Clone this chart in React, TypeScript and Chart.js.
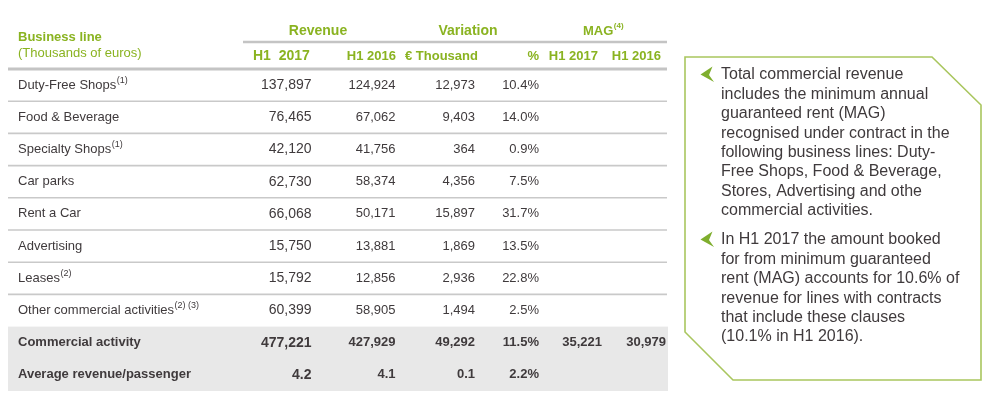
import React, { useEffect, useRef } from "react";
import { Chart, registerables } from "chart.js";

Chart.register(...registerables);

// ---- Data ----
const rowLabels = [
  "Duty-Free Shops",
  "Food & Beverage",
  "Specialty Shops",
  "Car parks",
  "Rent a Car",
  "Advertising",
  "Leases",
  "Other commercial activities",
  "Commercial activity",
  "Average revenue/passenger",
];
const rowNotes = ["(1)", "", "(1)", "", "", "", "(2)", "(2) (3)", "", ""];
const revenueH12017 = [137897, 76465, 42120, 62730, 66068, 15750, 15792, 60399, 477221, 4.2];
const revenueH12016 = [124924, 67062, 41756, 58374, 50171, 13881, 12856, 58905, 427929, 4.1];
const variationThousand = [12973, 9403, 364, 4356, 15897, 1869, 2936, 1494, 49292, 0.1];
const variationPct = [10.4, 14.0, 0.9, 7.5, 31.7, 13.5, 22.8, 2.5, 11.5, 2.2];
const magH12017: (number | null)[] = [null, null, null, null, null, null, null, null, 35221, null];
const magH12016: (number | null)[] = [null, null, null, null, null, null, null, null, 30979, null];
const boldRows = [false, false, false, false, false, false, false, false, true, true];

const groupHeaders = ["Revenue", "Variation", "MAG"];
const subHeaders = ["H1  2017", "H1 2016", "€ Thousand", "%", "H1 2017", "H1 2016"];
const titleLines = ["Business line", "(Thousands of euros)"];

const bullet1 = [
  "Total commercial revenue",
  "includes the minimum annual",
  "guaranteed rent (MAG)",
  "recognised under contract in the",
  "following business lines: Duty-",
  "Free Shops, Food & Beverage,",
  "Stores, Advertising and othe",
  "commercial activities.",
];
const bullet2 = [
  "In H1 2017 the amount booked",
  "for from minimum guaranteed",
  "rent (MAG) accounts for 10.6% of",
  "revenue for lines with contracts",
  "that include these clauses",
  "(10.1% in H1 2016).",
];

// ---- Styles ----
const FONT = "'Liberation Sans', Arial, Helvetica, sans-serif";
const GREEN = "#8ab321";
const TEXT = "#3f3a3c";
const LINE = "#c9c9c9";
const SHADE = "#e8e8e8";
const BOX = "#a9c65e";

function fmt(v: number | null): string {
  if (v === null || v === undefined) return "";
  if (Number.isInteger(v)) return v.toString().replace(/\B(?=(\d{3})+(?!\d))/g, ",");
  return v.toFixed(1);
}

const tablePlugin = {
  id: "tablePlugin",
  beforeDraw(chart: any) {
    const ctx = chart.ctx as CanvasRenderingContext2D;
    const x = chart.scales.x;
    const y = chart.scales.y;
    const px = (v: number) => x.getPixelForValue(v);
    const rowY = (i: number) => y.getPixelForValue(i);
    const n = rowLabels.length;
    ctx.save();
    ctx.fillStyle = "#ffffff";
    ctx.fillRect(0, 0, chart.width, chart.height);

    // shaded total rows
    const shadeTop = rowY(7.5);
    const shadeBot = rowY(n - 0.5);
    ctx.fillStyle = SHADE;
    ctx.fillRect(px(8), shadeTop, px(668) - px(8), shadeBot - shadeTop);

    // row dividers
    ctx.strokeStyle = LINE;
    ctx.lineWidth = 1.6;
    for (let i = 1; i <= 7; i++) {
      const yy = rowY(i - 0.5);
      ctx.beginPath();
      ctx.moveTo(px(8), yy);
      ctx.lineTo(px(667), yy);
      ctx.stroke();
    }
    // thick header line
    ctx.lineWidth = 3;
    ctx.strokeStyle = "#c4c4c4";
    const top = rowY(-0.5);
    ctx.beginPath();
    ctx.moveTo(px(8), top);
    ctx.lineTo(px(667), top);
    ctx.stroke();
    // group line
    ctx.lineWidth = 2.5;
    ctx.beginPath();
    ctx.moveTo(px(243), top - 27);
    ctx.lineTo(px(667), top - 27);
    ctx.stroke();

    // headers
    ctx.textBaseline = "middle";
    ctx.fillStyle = GREEN;
    ctx.textAlign = "left";
    ctx.font = `bold 13px ${FONT}`;
    ctx.fillText(titleLines[0], px(18), top - 32);
    ctx.font = `13px ${FONT}`;
    ctx.fillText(titleLines[1], px(18), top - 16);

    ctx.font = `bold 14px ${FONT}`;
    ctx.textAlign = "center";
    ctx.fillText(groupHeaders[0], px(318), top - 38);
    ctx.fillText(groupHeaders[1], px(468), top - 38);
    ctx.textAlign = "left";
    ctx.font = `bold 13px ${FONT}`;
    ctx.fillText(groupHeaders[2], px(583), top - 38);
    const mw = ctx.measureText(groupHeaders[2]).width;
    ctx.font = `bold 8px ${FONT}`;
    ctx.fillText("(4)", px(583) + mw + 0.5, top - 43);

    const subY = top - 13;
    ctx.font = `bold 14px ${FONT}`;
    ctx.textAlign = "left";
    ctx.fillText(subHeaders[0], px(253), subY);
    ctx.font = `bold 13px ${FONT}`;
    ctx.textAlign = "right";
    ctx.fillText(subHeaders[1], px(396), subY);
    ctx.textAlign = "left";
    ctx.fillText(subHeaders[2], px(405), subY);
    ctx.textAlign = "right";
    ctx.fillText(subHeaders[3], px(539), subY);
    ctx.fillText(subHeaders[4], px(598), subY);
    ctx.fillText(subHeaders[5], px(661), subY);

    // rows
    const cols: { vals: (number | null)[]; right: number; size: number; pct?: boolean }[] = [
      { vals: revenueH12017, right: 311.5, size: 14 },
      { vals: revenueH12016, right: 395.5, size: 13 },
      { vals: variationThousand, right: 475, size: 13 },
      { vals: variationPct, right: 539, size: 13, pct: true },
      { vals: magH12017, right: 602, size: 13 },
      { vals: magH12016, right: 666, size: 13 },
    ];
    ctx.fillStyle = TEXT;
    for (let i = 0; i < n; i++) {
      const yy = rowY(i);
      const b = boldRows[i] ? "bold " : "";
      ctx.textAlign = "left";
      ctx.font = `${b}13px ${FONT}`;
      ctx.fillText(rowLabels[i], px(18), yy);
      if (rowNotes[i]) {
        const w = ctx.measureText(rowLabels[i]).width;
        ctx.font = `9px ${FONT}`;
        ctx.fillText(rowNotes[i], px(18) + w + 0.5, yy - 5);
      }
      ctx.textAlign = "right";
      for (const c of cols) {
        const v = c.vals[i];
        if (v === null || v === undefined) continue;
        ctx.font = `${b}${c.size}px ${FONT}`;
        const s = c.pct ? (v as number).toFixed(1) + "%" : fmt(v as number);
        ctx.fillText(s, px(c.right), yy);
      }
    }

    // callout box
    ctx.strokeStyle = BOX;
    ctx.lineWidth = 1.6;
    ctx.beginPath();
    ctx.moveTo(685, 57);
    ctx.lineTo(932, 57);
    ctx.lineTo(981, 105);
    ctx.lineTo(981, 380);
    ctx.lineTo(733, 380);
    ctx.lineTo(685, 332);
    ctx.closePath();
    ctx.stroke();

    const drawArrow = (cy: number) => {
      ctx.fillStyle = "#7fae2e";
      ctx.beginPath();
      ctx.moveTo(700.5, cy - 0.5);
      ctx.lineTo(712.5, cy - 8.5);
      ctx.lineTo(709, cy);
      ctx.lineTo(714, cy + 7);
      ctx.closePath();
      ctx.fill();
    };
    ctx.font = `16px ${FONT}`;
    ctx.textAlign = "left";
    const lh = 19.4;
    drawArrow(75);
    ctx.fillStyle = TEXT;
    bullet1.forEach((t, k) => ctx.fillText(t, 721, 75 + k * lh));
    drawArrow(240);
    ctx.fillStyle = TEXT;
    bullet2.forEach((t, k) => ctx.fillText(t, 721, 240 + k * lh));
    ctx.restore();
  },
};

export default function App() {
  const ref = useRef<HTMLCanvasElement | null>(null);
  useEffect(() => {
    if (!ref.current) return;
    const chart = new Chart(ref.current, {
      type: "bar",
      data: { labels: rowLabels, datasets: [] },
      options: {
        indexAxis: "y",
        animation: false,
        responsive: false,
        devicePixelRatio: 1,
        layout: { padding: { left: 8, right: 331, top: 69, bottom: 14 } },
        plugins: { legend: { display: false }, tooltip: { enabled: false } },
        scales: {
          x: { type: "linear", min: 8, max: 668, display: false },
          y: { type: "category", offset: true, display: false },
        },
      },
      plugins: [tablePlugin],
    } as any);
    return () => chart.destroy();
  }, []);
  return (
    <div style={{ position: "absolute", left: 0, top: 0, width: 999, height: 405, background: "#fff" }}>
      <canvas ref={ref} width={999} height={405} style={{ display: "block" }} />
    </div>
  );
}
